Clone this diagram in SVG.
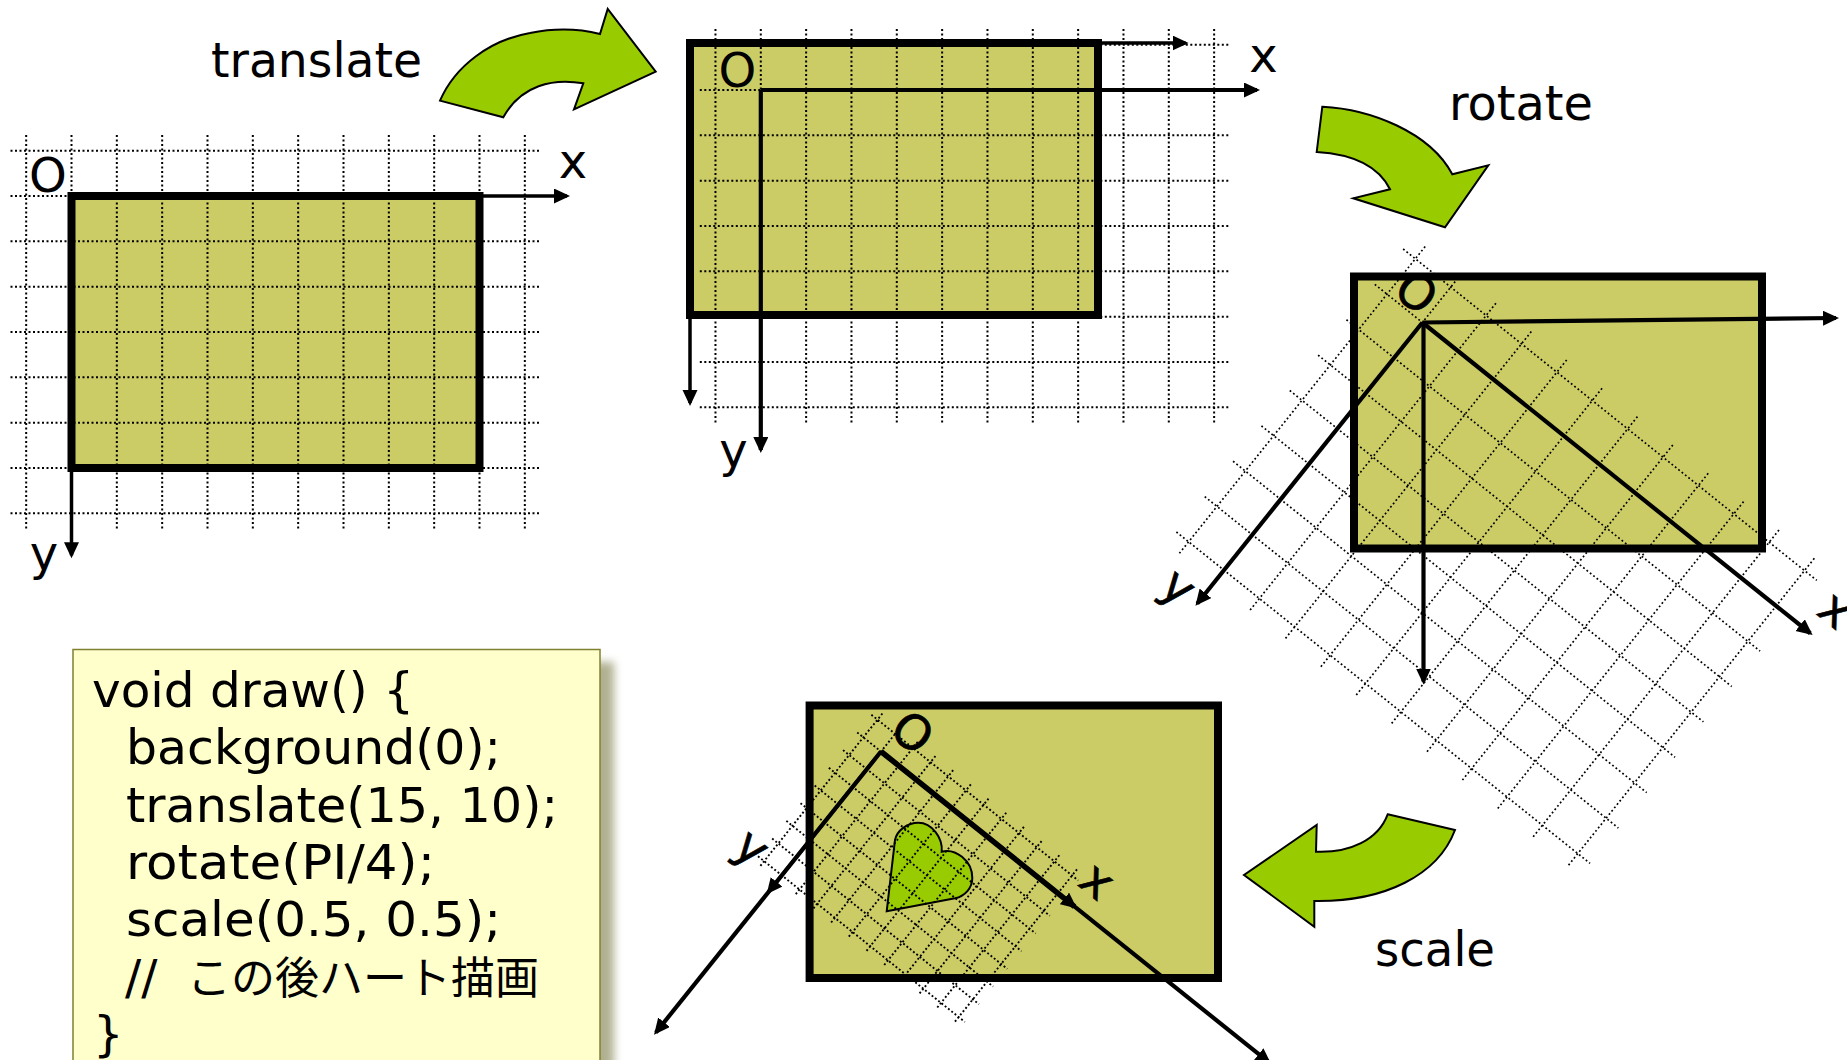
<svg xmlns="http://www.w3.org/2000/svg" xmlns:xlink="http://www.w3.org/1999/xlink" width="1847" height="1060" viewBox="0 0 1847 1060">
<style>
text{font-family:"DejaVu Sans","Noto Sans CJK JP",sans-serif;font-size:48px;fill:#000}
.m{text-anchor:middle}
.rt{stroke:#000;stroke-width:.6}
.fill{fill:#cccc66;stroke:none}
.bd{fill:none;stroke:#000;stroke-width:8}
.gr{fill:none;stroke:#000;stroke-width:2;stroke-dasharray:2 2.5}
.gr3{stroke-width:1.7;stroke-dasharray:1.8 2.5}
.gr4{stroke-width:3.8;stroke-dasharray:3.8 4.6}
.ax{fill:none;stroke:#000;stroke-width:3.5;marker-end:url(#ah)}
.ax2{stroke-width:4.2}
.ax3{stroke-width:5.5}
.ar{fill:#99cc00;stroke:#000;stroke-width:2;stroke-linejoin:miter}
</style>
<defs>
<marker id="ah" markerUnits="userSpaceOnUse" markerWidth="17" markerHeight="16" refX="13" refY="7.5" orient="auto"><path d="M0 0L16 7.5L0 15Z" fill="#000"/></marker>
<path id="grid" d="M-45.33-61V332.7M0-61V332.7M45.33-61V332.7M90.67-61V332.7M136-61V332.7M181.33-61V332.7M226.67-61V332.7M272-61V332.7M317.33-61V332.7M362.67-61V332.7M408-61V332.7M453.33-61V332.7M-61-45.33H469M-61 0H469M-61 45.33H469M-61 90.67H469M-61 136H469M-61 181.33H469M-61 226.67H469M-61 272H469M-61 317.33H469"/>
<filter id="blur" x="-10%" y="-10%" width="120%" height="120%"><feGaussianBlur stdDeviation="4"/></filter>
</defs>
<rect width="1847" height="1060" fill="#fff"/>

<g id="panel-1">
<rect class="fill" x="71.5" y="196" width="408" height="272"/>
<use href="#grid" class="gr" transform="translate(71.5 196)"/>
<rect class="bd" x="71.5" y="196" width="408" height="272"/>
<text class="m" x="48" y="192">O</text>
<text class="m" x="573" y="178">x</text>
<text class="m" x="44" y="570">y</text>
</g>

<g id="panel-2">
<rect class="fill" x="690" y="43" width="408" height="272"/>
<use href="#grid" class="gr" transform="translate(760.8 90)"/>
<rect class="bd" x="690" y="43" width="408" height="272"/>
<text class="m" x="737.5" y="87">O</text>
<text class="m" x="1263.4" y="71.7">x</text>
<text class="m" x="733.4" y="467">y</text>
</g>

<g id="panel-3">
<rect class="fill" x="1354" y="276.5" width="408" height="272"/>
<use href="#grid" class="gr gr3" transform="translate(1422.4 322.5) rotate(38.7)"/>
<rect class="bd" x="1354" y="276.5" width="408" height="272"/>
<g transform="translate(1422.4 322.5) rotate(38.7)">
<text class="m rt" x="-23.3" y="-3">O</text>
<text class="m rt" x="502.6" y="-18.3">x</text>
<text class="m rt" x="-25" y="375">y</text>
</g>
</g>

<g id="panel-4">
<rect class="fill" x="809.6" y="705.5" width="408.4" height="272.5"/>
<path class="ar" d="M886.7 911.3L895 840C897 830 908 822.7 918.3 822.7C932 822.7 943 838 941.7 851.7C955 848 972.3 860 972.3 878C972.3 888 965 896 955 898.3Z"/>
<use href="#grid" class="gr gr4" transform="translate(881 751.5) rotate(38.7) scale(.5)"/>
<rect class="bd" x="809.6" y="705.5" width="408.4" height="272.5"/>
<g transform="translate(913 732) rotate(38.7)"><text class="m rt" y="17.5">O</text></g>
<g transform="translate(1095.4 883.3) rotate(38.7)"><text class="m rt" y="13">x</text></g>
<g transform="translate(750 850) rotate(38.7)"><text class="m rt" y="13">y</text></g>
</g>

<g id="connectors">
<path class="ax" d="M479.5 196H567"/>
<path class="ax" d="M71.5 468V555.3"/>
<path class="ax" d="M1098 43H1185.6"/>
<path class="ax" d="M690 315V403"/>
<path class="ax ax2" d="M760.8 90H1257"/>
<path class="ax ax2" d="M760.8 90V450"/>
<path class="ax ax2" d="M1422.4 322.5L1836 318"/>
<path class="ax ax2" d="M1423.5 322.5V681.5"/>
<g transform="translate(1422.4 322.5) rotate(38.7)">
<path class="ax ax2" d="M0 0H497"/>
<path class="ax ax2" d="M0 0V360"/>
</g>
<g transform="translate(881 751.5) rotate(38.7)">
<path class="ax ax2" d="M0 0H497"/>
<path class="ax ax2" d="M0 0V360"/>
<path class="ax ax3" d="M0 0H248"/>
<path class="ax" d="M0 0V180"/>
</g>
</g>

<g id="arrow-translate"><path class="ar" d="M440 100.7C455 66 490 40 530 33C555 28 580 29 600 34L607.7 9L655.7 71.7L574 109.3L583.3 83.3C553 78 521 85 503.3 117.3Z"/></g>
<g id="arrow-rotate"><path class="ar" d="M1322.3 106.7C1370 109 1430 132 1452.3 174.3L1488.3 165.3L1445 227.3L1353.3 198.3L1390 189.3C1378 165 1350 154 1316.7 152Z"/></g>
<g id="arrow-scale"><path class="ar" d="M1387.7 814.3L1455 830C1438 875 1385 902 1314.3 901L1314.3 926.7L1244 875L1316.7 825L1316 851.7C1350 853 1378 840 1387.7 814.3Z"/></g>

<g id="label-translate"><text x="211" y="77" textLength="211" lengthAdjust="spacingAndGlyphs">translate</text></g>
<g id="label-rotate"><text x="1449" y="119.5" textLength="144" lengthAdjust="spacingAndGlyphs">rotate</text></g>
<g id="label-scale"><text x="1375" y="966" textLength="120" lengthAdjust="spacingAndGlyphs">scale</text></g>

<g id="code">
<rect x="85" y="662" width="529" height="420" fill="#7d7d4a" opacity=".6" filter="url(#blur)"/>
<rect x="73" y="649.5" width="527" height="420" fill="#ffffcc" stroke="#808033" stroke-width="1.5"/>
<text x="92" y="706.5" textLength="322" lengthAdjust="spacingAndGlyphs">void draw() {</text>
<text x="126" y="764" textLength="375" lengthAdjust="spacingAndGlyphs">background(0);</text>
<text x="126" y="821.5" textLength="432" lengthAdjust="spacingAndGlyphs">translate(15, 10);</text>
<text x="126" y="878.5" textLength="309" lengthAdjust="spacingAndGlyphs">rotate(PI/4);</text>
<text x="126" y="936" textLength="375" lengthAdjust="spacingAndGlyphs">scale(0.5, 0.5);</text>
<text x="125" y="994" font-size="54">// <tspan x="187" font-size="44">この後ハート描画</tspan></text>
<text x="93" y="1051">}</text>
</g>
</svg>
